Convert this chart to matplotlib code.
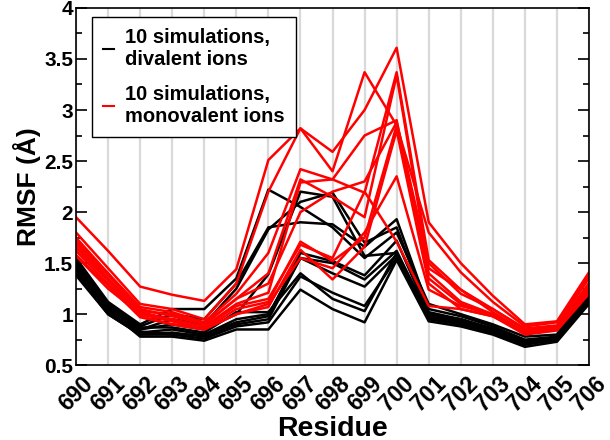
import matplotlib
matplotlib.use("Agg")
import matplotlib.pyplot as plt
from matplotlib.ticker import MultipleLocator
from matplotlib.lines import Line2D

plt.rcParams['font.family'] = ['Liberation Sans', 'DejaVu Sans']
plt.rcParams['font.weight'] = 'bold'

residues = list(range(690, 707))

# divalent ions (black)
divalent = [
    [1.55, 1.12, 0.90, 1.05, 1.05, 1.35, 2.22, 2.05, 1.85, 1.55, 1.80, 1.10, 1.00, 0.90, 0.78, 0.80, 1.30],
    [1.50, 1.10, 0.88, 1.00, 0.95, 1.30, 1.85, 1.90, 1.88, 1.66, 1.93, 1.05, 0.98, 0.88, 0.75, 0.78, 1.25],
    [1.48, 1.08, 0.85, 0.95, 0.90, 1.25, 1.83, 2.10, 2.19, 1.70, 1.85, 1.02, 0.95, 0.86, 0.74, 0.77, 1.20],
    [1.45, 1.05, 0.85, 0.90, 0.85, 1.00, 1.39, 2.20, 2.15, 1.57, 1.60, 1.00, 0.95, 0.85, 0.73, 0.76, 1.18],
    [1.42, 1.02, 0.82, 0.85, 0.80, 0.95, 1.00, 1.55, 1.50, 1.34, 1.62, 0.98, 0.93, 0.84, 0.72, 0.76, 1.15],
    [1.40, 1.00, 0.80, 0.82, 0.78, 0.90, 0.95, 1.55, 1.40, 1.27, 1.58, 0.97, 0.92, 0.83, 0.71, 0.75, 1.14],
    [1.38, 1.00, 0.80, 0.80, 0.76, 0.88, 0.92, 1.37, 1.21, 1.08, 1.55, 0.96, 0.90, 0.82, 0.70, 0.75, 1.12],
    [1.52, 1.08, 0.87, 0.87, 0.82, 1.02, 1.02, 1.40, 1.15, 1.03, 1.60, 0.95, 0.90, 0.82, 0.72, 0.74, 1.16],
    [1.46, 1.04, 0.78, 0.78, 0.74, 0.85, 0.85, 1.24, 1.05, 0.92, 1.53, 0.93, 0.88, 0.80, 0.68, 0.73, 1.10],
    [1.50, 1.06, 0.83, 0.80, 0.80, 0.92, 0.98, 1.60, 1.52, 1.38, 1.72, 1.00, 0.95, 0.85, 0.74, 0.77, 1.22],
]

# monovalent ions (red)
monovalent = [
    [1.95, 1.62, 1.27, 1.19, 1.13, 1.44, 2.51, 2.82, 2.59, 3.00, 3.61, 1.90, 1.50, 1.18, 0.90, 0.93, 1.41],
    [1.80, 1.45, 1.10, 1.05, 0.95, 1.30, 2.20, 2.82, 2.40, 3.37, 2.85, 1.80, 1.41, 1.12, 0.88, 0.92, 1.38],
    [1.75, 1.40, 1.07, 1.02, 0.92, 1.20, 1.60, 2.42, 2.32, 2.19, 3.37, 1.53, 1.24, 1.05, 0.85, 0.88, 1.30],
    [1.70, 1.38, 1.05, 0.98, 0.90, 1.15, 1.40, 2.32, 2.15, 1.95, 3.34, 1.45, 1.24, 1.02, 0.83, 0.87, 1.28],
    [1.68, 1.35, 1.02, 0.95, 0.88, 1.10, 1.21, 2.29, 2.32, 2.75, 2.90, 1.40, 1.12, 1.00, 0.82, 0.86, 1.25],
    [1.65, 1.33, 1.00, 0.93, 0.85, 1.05, 1.12, 1.71, 1.52, 1.75, 2.85, 1.35, 1.10, 0.98, 0.82, 0.85, 1.22],
    [1.62, 1.30, 0.98, 0.90, 0.85, 1.00, 1.07, 1.63, 1.34, 1.66, 2.80, 1.30, 1.05, 0.98, 0.80, 0.84, 1.20],
    [1.58, 1.28, 0.97, 0.90, 0.85, 1.00, 1.10, 1.55, 1.45, 1.80, 2.35, 1.24, 1.08, 1.00, 0.81, 0.85, 1.24],
    [1.57, 1.25, 1.00, 0.95, 0.87, 1.08, 1.15, 1.68, 1.55, 2.20, 1.71, 1.08, 1.05, 0.98, 0.83, 0.86, 1.30],
    [1.72, 1.40, 1.03, 1.00, 0.90, 1.15, 1.30, 2.00, 2.20, 2.30, 2.88, 1.50, 1.20, 1.05, 0.86, 0.89, 1.35],
]

labels = ['10 simulations,\ndivalent ions', '10 simulations,\nmonovalent ions']

fig = plt.figure(figsize=(6.1, 4.4), dpi=100)
ax = fig.add_axes([0.1246, 0.170, 0.841, 0.812])

for xv in residues:
    ax.axvline(xv, color='#d9d9d9', lw=1.6, zorder=0)

for s in divalent:
    ax.plot(residues, s, color='black', lw=1.8)
for s in monovalent:
    ax.plot(residues, s, color='#ff0000', lw=1.8)

ax.set_xlim(690, 706)
ax.set_ylim(0.5, 4)
ax.set_xticks(residues)
ax.set_xticklabels([str(r) for r in residues], rotation=45, ha='center',
                   fontsize=16.5, fontweight='bold')
ax.yaxis.set_minor_locator(MultipleLocator(0.25))
ax.set_yticks([0.5, 1, 1.5, 2, 2.5, 3, 3.5, 4])
ax.set_yticklabels(['0.5', '1', '1.5', '2', '2.5', '3', '3.5', '4'], fontsize=15, fontweight='bold')
ax.tick_params(axis='y', which='both', direction='in', left=True, right=True, width=1.2, pad=2)
ax.tick_params(axis='y', which='major', length=8)
ax.tick_params(axis='y', which='minor', length=4)
ax.tick_params(axis='x', direction='in', length=0, pad=5)
for sp in ax.spines.values():
    sp.set_linewidth(1.2)

ax.set_xlabel('Residue', fontsize=20.5, fontweight='bold', labelpad=0)
ax.set_ylabel('RMSF (Å)', fontsize=19, fontweight='bold', labelpad=2)

handles = [Line2D([0], [0], color='black', lw=1.5),
           Line2D([0], [0], color='#ff0000', lw=1.5)]
leg = ax.legend(handles, labels, loc='upper left', bbox_to_anchor=(0.031, 0.975),
                prop={'weight': 'bold', 'size': 14.5},
                handlelength=0.55, handletextpad=0.55, fancybox=False,
                framealpha=1, edgecolor='black', borderpad=0.55,
                borderaxespad=0, labelspacing=0.8)
leg.get_frame().set_linewidth(1.0)

fig.savefig('out.png', dpi=100)
